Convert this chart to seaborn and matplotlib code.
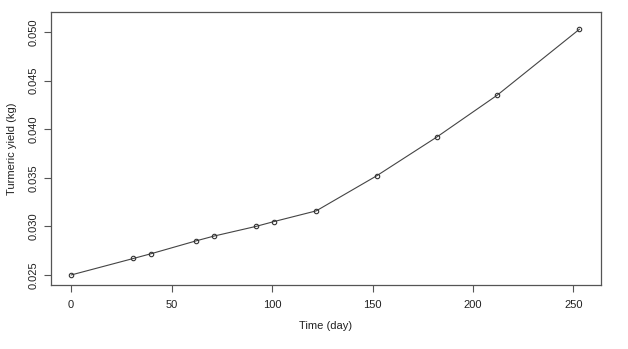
import matplotlib
matplotlib.use("Agg")
import matplotlib.pyplot as plt
import seaborn as sns
import pandas as pd

days = [0, 31, 40, 62, 71, 92, 101, 122, 152, 182, 212, 253]
yield_kg = [0.0250, 0.0267, 0.0272, 0.0285, 0.0290, 0.0300, 0.0305, 0.0316,
            0.0352, 0.0392, 0.0435, 0.0503]
x_ticks = [0, 50, 100, 150, 200, 250]
y_ticks = [0.025, 0.030, 0.035, 0.040, 0.045, 0.050]

sns.set_style("white")
plt.rcParams['font.family'] = ['Liberation Sans', 'DejaVu Sans']

df = pd.DataFrame({"day": days, "yield": yield_kg})

fig = plt.figure(figsize=(6.28, 3.49), dpi=100)
ax = fig.add_axes([0.0812, 0.1834, 0.957 - 0.0812, 0.9665 - 0.1834])

sns.lineplot(data=df, x="day", y="yield", ax=ax, color="#444444", linewidth=0.8,
             marker="o", markersize=3.2, markerfacecolor="none",
             markeredgecolor="#333333", markeredgewidth=0.8)

ax.set_xlim(-10.0, 263.7)
ax.set_ylim(0.02397, 0.0521)
ax.set_xticks(x_ticks)
ax.set_xticklabels([str(t) for t in x_ticks])
ax.set_yticks(y_ticks)
ax.set_yticklabels([f"{t:.3f}" for t in y_ticks], rotation=90, va="center")

ax.tick_params(axis="both", direction="out", length=5, width=0.8,
               color="#555555", labelsize=8, labelcolor="#222222",
               bottom=True, left=True)
ax.tick_params(axis="x", pad=6)
ax.tick_params(axis="y", pad=4)
for s in ax.spines.values():
    s.set_color("#555555")
    s.set_linewidth(0.9)

ax.set_xlabel("Time (day)", fontsize=8, color="#222222", labelpad=8)
ax.set_ylabel("Turmeric yield (kg)", fontsize=8, color="#222222", labelpad=8)

fig.savefig("out.png", dpi=100)
